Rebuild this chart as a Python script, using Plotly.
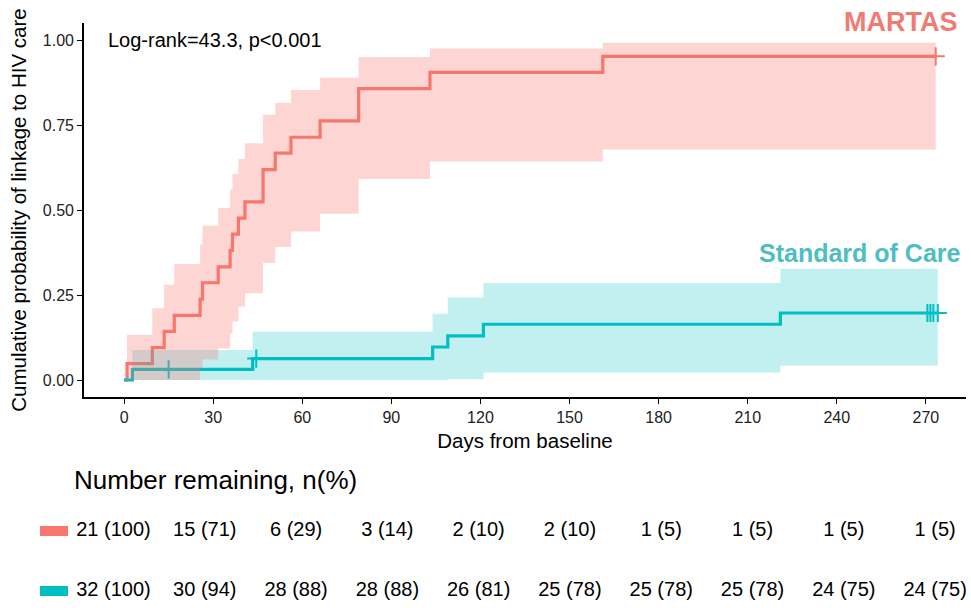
import plotly.graph_objects as go

# ---------------- data ----------------
# MARTAS arm: event times (days), cumulative probability after each step, 95% CI
martas_times = [1.0, 9.5, 13.5, 16.9, 25.6, 26.4, 31.7, 35.7, 36.5, 38.5, 40.7,
                46.8, 50.9, 56.2, 66.0, 79.0, 103.0, 161.2]
martas_cum = [0.048, 0.095, 0.143, 0.190, 0.238, 0.286, 0.333, 0.381, 0.429, 0.476,
              0.524, 0.619, 0.667, 0.714, 0.762, 0.857, 0.905, 0.952]
martas_lower = [0.0, 0.0, 0.0, 0.0, 0.034, 0.060, 0.093, 0.136, 0.172, 0.216,
                0.255, 0.344, 0.391, 0.437, 0.489, 0.591, 0.643, 0.678]
martas_upper = [0.133, 0.211, 0.280, 0.341, 0.398, 0.454, 0.506, 0.560, 0.606, 0.650,
                0.696, 0.780, 0.815, 0.853, 0.889, 0.950, 0.975, 0.992]
martas_censor = [273.3]
martas_end = 273.3

# Standard of Care arm
soc_times = [2.8, 43.3, 103.9, 109.0, 121.0, 221.0]
soc_cum = [0.031, 0.063, 0.097, 0.130, 0.164, 0.197]
soc_lower = [0.0, 0.0, 0.0, 0.002, 0.022, 0.042]
soc_upper = [0.088, 0.142, 0.195, 0.243, 0.285, 0.327]
soc_censor = [15.0, 44.5, 270.5, 271.5, 272.5, 274.0]
soc_end = 274.0

# Risk table
risk_times = [0, 30, 60, 90, 120, 150, 180, 210, 240, 270]
martas_n = [21, 15, 6, 3, 2, 2, 1, 1, 1, 1]
martas_pct = [100, 71, 29, 14, 10, 10, 5, 5, 5, 5]
soc_n = [32, 30, 28, 28, 26, 25, 25, 25, 24, 24]
soc_pct = [100, 94, 88, 88, 81, 78, 78, 78, 75, 75]

x_ticks = [0, 30, 60, 90, 120, 150, 180, 210, 240, 270]
y_ticks = [0.0, 0.25, 0.50, 0.75, 1.00]
y_ticktext = ["0.00", "0.25", "0.50", "0.75", "1.00"]

# ---------------- style ----------------
RED = "#F8766D"
CYAN = "#00BFC4"
RED_BAND = "rgba(248,118,109,0.30)"
CYAN_BAND = "rgba(0,191,196,0.24)"
FONT = "Liberation Sans, Arial, sans-serif"
W, H = 971, 610


def step_value(times, cum, t):
    v = 0.0
    for ti, ci in zip(times, cum):
        if t >= ti:
            v = ci
    return v


fig = go.Figure()

# cumulative-probability step lines
for times, cum, end, col, name in [
    (martas_times, martas_cum, martas_end, RED, "MARTAS"),
    (soc_times, soc_cum, soc_end, CYAN, "Standard of Care"),
]:
    fig.add_trace(go.Scatter(
        x=[0] + times + [end], y=[0] + cum + [cum[-1]],
        mode="lines", line=dict(color=col, width=3.2, shape="hv"),
        name=name, showlegend=False, hoverinfo="skip"))

# censor marks
for times, cum, cens, col in [
    (martas_times, martas_cum, martas_censor, RED),
    (soc_times, soc_cum, soc_censor, CYAN),
]:
    fig.add_trace(go.Scatter(
        x=cens, y=[step_value(times, cum, t) for t in cens],
        mode="markers",
        marker=dict(symbol="cross-thin", size=13, line=dict(width=2, color=col)),
        showlegend=False, hoverinfo="skip"))

# confidence bands (drawn over the lines, like ggplot ribbons)
for times, lo, up, end, fillc in [
    (soc_times, soc_lower, soc_upper, soc_end, CYAN_BAND),
    (martas_times, martas_lower, martas_upper, martas_end, RED_BAND),
]:
    fig.add_trace(go.Scatter(
        x=times + [end], y=lo + [lo[-1]], mode="lines",
        line=dict(width=0, shape="hv"), showlegend=False, hoverinfo="skip"))
    fig.add_trace(go.Scatter(
        x=times + [end], y=up + [up[-1]], mode="lines",
        line=dict(width=0, shape="hv"), fill="tonexty", fillcolor=fillc,
        showlegend=False, hoverinfo="skip"))

# risk table text (own axes below the plot)
TBL_TOP_PX = 500
ROW_MARTAS = H - 531
ROW_SOC = H - 591
for n_list, p_list, row in [(martas_n, martas_pct, ROW_MARTAS), (soc_n, soc_pct, ROW_SOC)]:
    fig.add_trace(go.Scatter(
        x=risk_times, y=[row] * len(risk_times),
        text=[f"{n} ({p})" for n, p in zip(n_list, p_list)],
        mode="text", textfont=dict(family=FONT, size=20, color="black"),
        cliponaxis=False,
        xaxis="x2", yaxis="y2", showlegend=False, hoverinfo="skip"))

# ---------------- layout ----------------
x0px, x1px = 84, 966
y_top_px, y_bot_px = 23, 397
tbl_px0, tbl_scale = 113.5, 3.043

fig.update_layout(
    width=W, height=H,
    margin=dict(l=0, r=0, t=0, b=0),
    paper_bgcolor="white", plot_bgcolor="rgba(0,0,0,0)",
    font=dict(family=FONT, color="black"),
    xaxis=dict(
        domain=[x0px / W, x1px / W], range=[-13.5, 283.5],
        tickvals=x_ticks, ticks="outside", ticklen=5, tickwidth=1.3, tickcolor="black",
        showline=True, linecolor="black", linewidth=1.6,
        showgrid=False, zeroline=False,
        tickfont=dict(size=16, color="#222"),
        title=dict(text="Days from baseline", font=dict(size=20.5), standoff=9),
        anchor="y",
    ),
    yaxis=dict(
        domain=[1 - y_bot_px / H, 1 - y_top_px / H], range=[-0.05, 1.05],
        tickvals=y_ticks, ticktext=y_ticktext,
        ticks="outside", ticklen=5, tickwidth=1.3, tickcolor="black",
        showline=True, linecolor="black", linewidth=1.6,
        showgrid=False, zeroline=False,
        tickfont=dict(size=16, color="#222"),
        title=dict(text="Cumulative probability of linkage to HIV care",
                   font=dict(size=20.5), standoff=11),
        anchor="x",
    ),
    xaxis2=dict(
        domain=[0, 1], range=[(0 - tbl_px0) / tbl_scale, (W - tbl_px0) / tbl_scale],
        visible=False, anchor="y2",
    ),
    yaxis2=dict(domain=[0, 1 - TBL_TOP_PX / H], range=[0, H - TBL_TOP_PX],
                visible=False, anchor="x2"),
    annotations=[
        dict(text="Log-rank=43.3, p<0.001", x=-6, y=1.0, xref="x", yref="y",
             xanchor="left", yanchor="middle", showarrow=False,
             font=dict(size=20, color="black")),
        dict(text="<b>MARTAS</b>", x=959 / W, y=1 - 22 / H, xref="paper", yref="paper",
             xanchor="right", yanchor="middle", showarrow=False,
             font=dict(size=27, color="#EF7B73")),
        dict(text="<b>Standard of Care</b>", x=282.6, y=0.374, xref="x", yref="y",
             xanchor="right", yanchor="middle", showarrow=False,
             font=dict(size=25, color="#4DBEC3")),
        dict(text="Number remaining, n(%)", x=72 / W, y=1 - 480 / H,
             xref="paper", yref="paper", xanchor="left", yanchor="middle",
             showarrow=False, font=dict(size=26, color="black")),
    ],
    shapes=[
        dict(type="rect", xref="paper", yref="paper",
             x0=40 / W, x1=68 / W, y0=1 - 536 / H, y1=1 - 526 / H,
             fillcolor=RED, line=dict(width=0)),
        dict(type="rect", xref="paper", yref="paper",
             x0=40 / W, x1=68 / W, y0=1 - 596 / H, y1=1 - 586 / H,
             fillcolor=CYAN, line=dict(width=0)),
    ],
)

fig.write_html("out.html", config={"displayModeBar": False},
               post_script="document.body.style.margin='0';document.body.style.overflow='hidden';")
